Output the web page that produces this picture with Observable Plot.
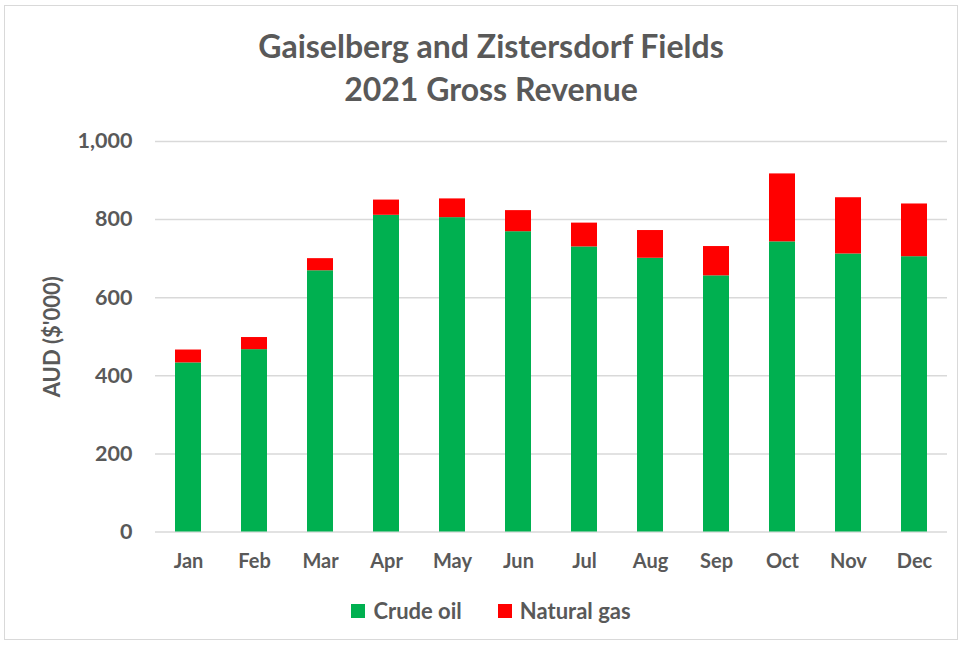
<!DOCTYPE html>
<html><head><meta charset="utf-8">
<script src="https://cdn.jsdelivr.net/npm/d3@7"></script>
<script src="https://cdn.jsdelivr.net/npm/@observablehq/plot@0.6"></script>
<style>
body{margin:0;background:#fff;}
#chart{position:relative;width:964px;height:645px;font-family:Lato,sans-serif;color:#595959;overflow:hidden;}
#frame{position:absolute;left:4px;top:5px;width:954px;height:635px;border:1px solid #d9d9d9;box-sizing:border-box;pointer-events:none;}
#title{height:118px;box-sizing:border-box;padding-top:24px;padding-left:18px;text-align:center;font-weight:700;font-size:32px;line-height:43px;color:#595959;}
#plot svg{display:block;}
#legend{height:60px;display:flex;justify-content:center;align-items:flex-start;padding-left:18px;padding-top:12px;box-sizing:border-box;}
#legend .lg-swatches{font-family:Lato,sans-serif;font-size:22px;font-weight:700;color:#595959;margin:0;}
#legend .lg-swatches-wrap{display:flex;align-items:center;min-height:0;}
#legend .lg-swatch{margin-right:36px;}
#legend .lg-swatch:last-child{margin-right:0;}
#legend .lg-swatch > svg{margin-right:8px;}
</style>
</head><body>
<div id="chart">
  <div id="title">Gaiselberg and Zistersdorf Fields<br>2021 Gross Revenue</div>
  <div id="plot"></div>
  <div id="legend"></div>
  <div id="frame"></div>
</div>
<script>
const months = ["Jan","Feb","Mar","Apr","May","Jun","Jul","Aug","Sep","Oct","Nov","Dec"];
const seriesNames = ["Crude oil","Natural gas"];
const seriesColors = ["#00B050","#FF0000"];
const crudeOil = [433,467,669,811,805,769,730,701,656,743,712,705];
const naturalGas = [33,31,31,39,48,54,61,71,75,174,144,135];
const yTicks = [0,200,400,600,800,1000];
const yLabel = "AUD ($'000)";

const data = months.flatMap((m,i)=>[
  {month:m, type:seriesNames[0], value:crudeOil[i]},
  {month:m, type:seriesNames[1], value:naturalGas[i]}
]);

const colorScale = {domain:seriesNames, range:seriesColors};

const plot = Plot.plot({
  width:964, height:467,
  marginLeft:155, marginRight:17, marginTop:23, marginBottom:53.5,
  style:{fontFamily:"Lato, sans-serif", fontSize:"20px", fontWeight:"700", color:"#595959", background:"transparent"},
  x:{domain:months, paddingInner:0.6, paddingOuter:0.3},
  y:{domain:[0,1000]},
  color:colorScale,
  marks:[
    Plot.gridY(yTicks,{stroke:"#d9d9d9", strokeOpacity:1, strokeWidth:1.5}),
    Plot.barY(data, Plot.stackY({x:"month", y:"value", fill:"type", order:null})),
    Plot.axisX({tickSize:0, tickPadding:22, label:null, fontSize:20}),
    Plot.axisY(yTicks,{tickSize:0, tickPadding:23, tickFormat:d3.format(","), label:yLabel, labelAnchor:"center", labelArrow:"none", labelOffset:111, fontSize:21.5})
  ]
});
document.getElementById("plot").appendChild(plot);
plot.querySelectorAll("[aria-label='y-axis label'] text, [aria-label='y-axis label']").forEach(el=>el.setAttribute("font-size","22"));

const legend = Plot.legend({color:colorScale, swatchSize:14, className:"lg"});
document.getElementById("legend").appendChild(legend);
</script>
</body></html>
